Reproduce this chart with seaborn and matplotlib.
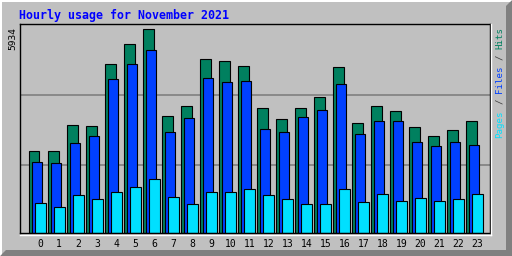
import matplotlib
matplotlib.use("Agg")
import matplotlib.pyplot as plt
from matplotlib.patches import Polygon
from matplotlib.lines import Line2D
import seaborn as sns
import pandas as pd
import numpy as np

hours = list(range(24))
hits = [2403, 2403, 3132, 3103, 4913, 5496, 5934, 3395, 3687, 5059, 5000, 4854,
        3629, 3308, 3629, 3950, 4825, 3191, 3687, 3541, 3074, 2840, 2986, 3249]
files = [2082, 2053, 2636, 2840, 4475, 4913, 5321, 2928, 3337, 4504, 4387, 4417,
         3016, 2928, 3366, 3570, 4329, 2870, 3249, 3249, 2665, 2520, 2665, 2578]
pages = [885, 768, 1099, 1002, 1206, 1333, 1586, 1060, 856, 1206, 1206, 1294,
         1119, 1002, 856, 856, 1294, 914, 1148, 944, 1031, 944, 1002, 1148]
title = "Hourly usage for November 2021"
max_label = "5934"

BG = "#c0c0c0"
C_HITS = "#00805f"
C_FILES = "#0040ff"
C_PAGES = "#00e0ff"

W, H = 512, 256
fig = plt.figure(figsize=(W / 100, H / 100), dpi=100, facecolor=BG)

# axes placement (pixels)
ax_l, ax_r, ax_t, ax_b = 20, 489.5, 24, 233
ax = fig.add_axes([ax_l / W, (H - ax_b) / H, (ax_r - ax_l) / W, (ax_b - ax_t) / H])
ax.set_facecolor(BG)

ytop = 5934 * 209 / 203.7
for f in (0.325, 0.66):
    ax.axhline(ytop * f, color="#808080", lw=1.2, zorder=0)

offsets = {"hits": -0.27, "files": -0.12, "pages": 0.05}
series = [("hits", hits, C_HITS), ("files", files, C_FILES), ("pages", pages, C_PAGES)]
for name, vals, col in series:
    df = pd.DataFrame({"x": np.array(hours) + offsets[name], "y": vals})
    sns.barplot(data=df, x="x", y="y", native_scale=True, width=0.54, color=col,
                saturation=1, edgecolor="black", linewidth=0.8, errorbar=None,
                ax=ax, zorder=2)

ax.set_xlim(-1.026, 23.68)
ax.set_ylim(0, ytop)
ax.set_xlabel("")
ax.set_ylabel("")
ax.set_yticks([])
ax.set_xticks(np.array(hours) + 0.04)
ax.set_xticklabels([str(h) for h in hours], fontsize=7, family="DejaVu Sans Mono",
                   color="black")
ax.tick_params(axis="x", length=0, pad=4.5)
for s in ax.spines.values():
    s.set_color("black")
    s.set_linewidth(1)

# white outer lines of the plot frame (bottom and right)
fig.add_artist(Line2D([ax_l / W, 491 / W], [(H - 234.5) / H] * 2, color="white", lw=1,
                      transform=fig.transFigure))
fig.add_artist(Line2D([490.8 / W] * 2, [(H - 234.5) / H, (H - 24) / H], color="white", lw=1,
                      transform=fig.transFigure))

# outer bevel border
def px(pts):
    return [(x / W, y / H) for x, y in pts]

fig.add_artist(Polygon(px([(0, 0), (512, 0), (512, 256), (506, 250), (506, 6), (6, 6)]),
                       closed=True, facecolor="#808080", edgecolor="none",
                       transform=fig.transFigure))
fig.add_artist(Polygon(px([(0, 0), (0, 256), (512, 256), (510, 254), (2, 254), (2, 2)]),
                       closed=True, facecolor="white", edgecolor="none",
                       transform=fig.transFigure))

# title
fig.text(19 / W, (H - 15) / H, title, fontsize=8.4, family="DejaVu Sans Mono",
         weight="bold", color="#0000ff", ha="left", va="center")

# max label
fig.text(13 / W, (H - 27.5) / H, max_label, fontsize=6.8, family="DejaVu Sans Mono",
         rotation=90, ha="center", va="top", color="black")

# right legend (rotated, pieces)
fs = 6.6
adv = 0.602 * fs * 100 / 72  # px per char
y0 = 137.5
pieces = [("Pages", 0, C_PAGES), ("/", 6, "#404040"), ("Files", 8, C_FILES),
          ("/", 14, "#404040"), ("Hits", 16, C_HITS)]
for txt, off, col in pieces:
    fig.text(499.5 / W, (H - y0 + off * adv) / H, txt, fontsize=fs,
             family="DejaVu Sans Mono", rotation=90, ha="center", va="bottom", color=col)

fig.savefig("out.png", dpi=100, facecolor=BG)
